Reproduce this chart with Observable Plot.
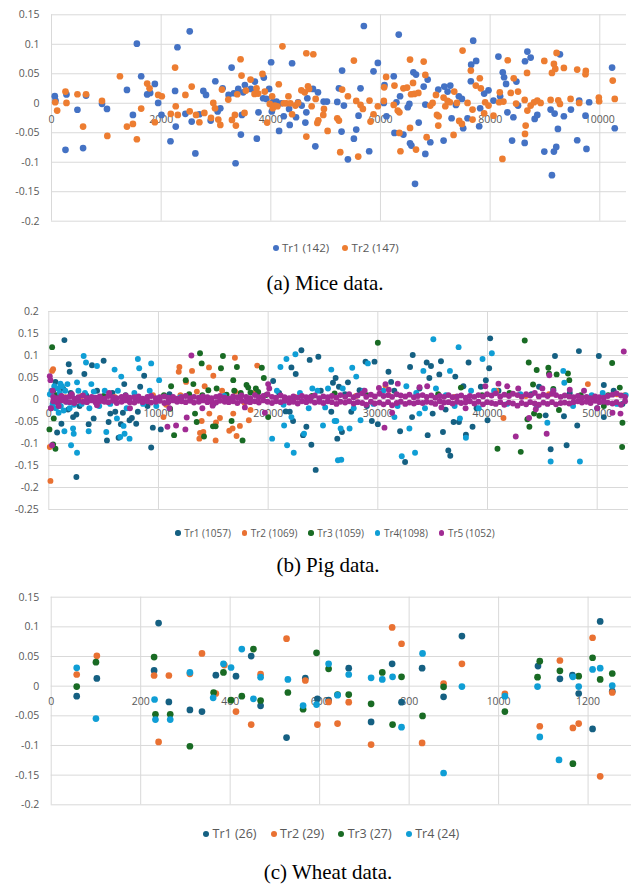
<!DOCTYPE html>
<html><head><meta charset="utf-8">
<script src="https://cdn.jsdelivr.net/npm/d3@7"></script>
<script src="https://cdn.jsdelivr.net/npm/@observablehq/plot@0.6"></script>
<style>
body{margin:0;background:#fff;}
#page{position:relative;width:633px;height:887px;overflow:hidden;background:#fff;}
.blk{position:absolute;left:0;}
.blk svg{overflow:visible;}
.legend{position:absolute;display:flex;align-items:center;white-space:nowrap;font-family:'Open Sans',sans-serif;color:#595959;}
.legend .it{display:flex;align-items:center;}
.legend .sw{border-radius:50%;display:inline-block;flex:none;}
.cap{position:absolute;font-family:'Liberation Serif','Times New Roman',serif;font-size:21px;color:#000;white-space:nowrap;transform:translateX(-50%);line-height:1;}
</style></head><body><div id="page"></div><script>
// ---------- (a) Mice data ----------
const miceNames = ["Tr1 (142)", "Tr2 (147)"];
const miceColors = ["#4472C4", "#ED7D31"];
const miceXTicks = [0, 2000, 4000, 6000, 8000, 10000];
const miceYTicks = [0.15, 0.1, 0.05, 0, -0.05, -0.1, -0.15, -0.2];
const miceTr1 = [[60,0.012],[73,0.0045],[273,0.015],[255,-0.079],[473,-0.011],[576,-0.076],[630,0.013],[921,-0.001],[1012,-0.0096],[1376,0.0226],[1485,-0.0198],[1557,0.101],[1636,0.0458],[1745,0.015],[1800,0.0175],[1885,0.0328],[1945,0.0006],[2006,-0.0198],[2170,-0.0644],[2254,0.0209],[2266,-0.0396],[2297,0.095],[2442,-0.018],[2521,0.122],[2557,-0.031],[2624,-0.085],[2697,-0.0186],[2769,0.0209],[2818,0.0141],[2903,-0.0294],[2988,0.0373],[3030,-0.014],[3079,-0.0085],[3121,0.0254],[3230,0.0141],[3285,0.0605],[3327,0.017],[3357,-0.1017],[3406,0.0243],[3454,-0.0531],[3472,-0.0198],[3497,0.0186],[3527,0.031],[3636,0.0243],[3709,0.0367],[3745,-0.06],[3775,-0.0153],[3872,0.0435],[3860,0.0085],[3921,0.0073],[3969,0.0243],[4006,0.0695],[4018,-0.014],[4042,0.0023],[4103,0.0028],[4151,-0.0469],[4193,0],[4236,-0.022],[4333,-0.0096],[4345,-0.0367],[4388,0.0678],[4460,-0.0237],[4497,0.0017],[4563,-0.004],[4630,-0.0328],[4648,-0.0153],[4666,0.0085],[4769,0.0243],[4812,-0.073],[4860,0.0186],[4963,0.0028],[5024,0.0028],[5212,0.0023],[5242,0.0254],[5300,0.0554],[5290,-0.048],[5333,-0.004],[5406,-0.095],[5515,-0.06],[5558,-0.0446],[5600,-0.021],[5636,0.0254],[5697,0.131],[5794,-0.0814],[5873,0.0542],[5952,0.0684],[6061,0.0006],[6073,0.031],[6109,-0.022],[6242,0.0458],[6255,-0.0503],[6291,0.0017],[6333,0.1164],[6357,0.0119],[6418,-0.0531],[6497,-0.0068],[6527,-0.0011],[6539,-0.0678],[6564,-0.0718],[6600,0.0525],[6648,0.0486],[6630,-0.1367],[6697,-0.0328],[6788,0.0283],[6818,-0.0023],[6818,-0.0859],[6861,0.0401],[6909,-0.0661],[7054,0.0232],[7151,-0.0633],[7164,0.0283],[7224,0.0198],[7273,0.03],[7297,-0.0254],[7376,-0.0028],[7430,0.0119],[7485,0.0073],[7509,-0.0424],[7588,-0.0254],[7648,0.0373],[7654,0.0655],[7691,0.1062],[7745,0.0718],[7800,-0.039],[7818,-0.0085],[7891,0.0164],[7970,0.022],[8061,0.0045],[8151,0.0791],[8182,0.0119],[8230,0.0525],[8254,0.0441],[8291,0.0328],[8315,-0.0153],[8400,-0.0633],[8424,-0.0237],[8479,0.0367],[8509,-0.004],[8630,-0.0672],[8636,0.0712],[8679,0.0876],[8739,0.0774],[8812,-0.0266],[8860,-0.0198],[8988,-0.082],[9103,-0.0107],[9163,-0.082],[9176,-0.0175],[9127,-0.122],[9206,-0.074],[9236,-0.0435],[9273,0.083],[9345,-0.022],[9473,-0.0107],[9588,-0.0627],[9624,0.0045],[9739,-0.021],[9757,-0.0774],[9806,0.0017],[10224,0.0605],[10273,-0.0424]];
const miceTr2 = [[67,0.0017],[103,-0.0124],[255,0.0198],[273,0.0006],[473,0.0153],[576,-0.0396],[630,0.0153],[921,0.004],[1018,-0.0554],[1248,0.0458],[1376,-0.0396],[1485,-0.035],[1557,-0.061],[1636,-0.009],[1745,0.0333],[1788,0.0254],[1885,-0.0322],[1945,0.0141],[2012,0.0119],[2176,-0.018],[2254,0.0605],[2266,-0.0051],[2303,-0.0198],[2442,0.0141],[2521,-0.0136],[2557,0.0283],[2636,-0.0198],[2697,-0.0322],[2788,-0.0164],[2909,-0.0249],[2951,0.0006],[2982,-0.0085],[3042,-0.0277],[3079,-0.0367],[3109,0.0232],[3224,0.0062],[3291,-0.0283],[3345,-0.0198],[3363,-0.0379],[3388,0.0153],[3448,0.0746],[3466,0.0469],[3521,-0.0164],[3545,0.0215],[3630,0.0401],[3703,0.0158],[3739,0.0254],[3769,0.0164],[3848,0.0497],[3890,0.0198],[3933,-0.0328],[3981,-0.0011],[4024,0.0119],[4036,-0.0085],[4073,-0.004],[4121,-0.0051],[4145,0.0322],[4212,0.0966],[4236,0],[4284,0],[4321,0.0119],[4357,0],[4388,-0.0186],[4448,-0.004],[4497,0.0006],[4557,0.022],[4618,0.0186],[4648,-0.0565],[4648,0.0848],[4678,0.0288],[4697,0.0243],[4745,-0.0051],[4775,0.0831],[4818,0.0073],[4848,-0.0333],[4866,-0.0288],[4957,-0.0198],[4969,-0.0096],[5036,-0.0469],[5212,-0.0254],[5242,-0.0294],[5266,-0.083],[5300,0.0232],[5406,0.0119],[5515,0.0723],[5558,0.004],[5594,-0.0904],[5636,-0.0028],[5679,-0.0096],[5800,0.0045],[5818,-0.031],[5873,-0.0186],[5952,-0.0051],[6061,0.004],[6067,0.0271],[6103,0.0446],[6242,-0.0028],[6255,0.03],[6315,-0.0124],[6345,-0.0153],[6345,-0.0503],[6364,-0.0814],[6418,0.0254],[6485,0.0266],[6539,0.074],[6539,-0.0418],[6558,0.0153],[6594,0.0345],[6618,0.0158],[6648,-0.0785],[6691,0.0175],[6788,0.0706],[6818,0.048],[6842,-0.0576],[6909,-0.004],[6951,0.0006],[7012,0.0141],[7030,-0.0198],[7054,-0.0379],[7061,-0.022],[7151,0.0096],[7182,-0.0051],[7224,0.004],[7267,0.0017],[7333,-0.0537],[7345,0.0198],[7394,0.0006],[7436,-0.03],[7485,-0.035],[7497,0.0893],[7588,0.0006],[7648,0.0554],[7679,-0.0107],[7679,-0.0277],[7739,0.03],[7812,0.0424],[7830,0.0254],[7891,-0.017],[7909,0.0017],[7970,-0.004],[8061,-0.021],[8176,0.0186],[8164,0.0017],[8224,-0.0944],[8242,0.0028],[8321,0.0729],[8376,0.0175],[8430,0.0424],[8473,-0.0006],[8509,0.0198],[8630,0.0057],[8648,-0.0379],[8636,-0.052],[8673,0.0514],[8679,-0.0124],[8739,-0.004],[8800,0.0017],[8860,0.0045],[8921,0.0006],[8988,0.0718],[9103,0.0057],[9127,0.0514],[9163,0.0667],[9188,0.0582],[9212,0.0853],[9242,0.0051],[9273,-0.0011],[9345,0.0599],[9467,0.0073],[9588,0.0571],[9624,0.0006],[9745,0.0548],[9739,0.0492],[9982,0.0096],[9988,0.0034],[10236,0.0384],[10273,0.0073]];

// ---------- (b) Pig data ----------
const pigNames = ["Tr1 (1057)", "Tr2 (1069)", "Tr3 (1059)", "Tr4(1098)", "Tr5 (1052)"];
const pigColors = ["#156082", "#E97132", "#196B24", "#0F9ED5", "#A02B93"];
const pigXTicks = [0, 10000, 20000, 30000, 40000, 50000];
const pigYTicks = [0.2, 0.15, 0.1, 0.05, 0, -0.05, -0.1, -0.15, -0.2, -0.25];
const pigTr1 = [[1424,0.135],[1818,0.080],[1909,0.063],[606,0.040],[2515,-0.176],[5000,0.088],[3939,0.078],[3242,0.058],[1757,-0.023],[1151,-0.055],[758,-0.075],[2212,-0.040],[2515,-0.034],[3636,-0.056],[4090,-0.043],[5303,-0.093],[5454,-0.051],[5606,-0.032],[6060,-0.028],[6363,-0.087],[6575,-0.056],[6757,-0.030],[6878,0.035],[7363,-0.047],[7575,-0.042],[7969,-0.055],[8120,-0.028],[8696,0.054],[8333,0.029],[9333,-0.109],[9484,-0.064],[10211,-0.068],[20453,0.042],[21605,-0.027],[21969,-0.028],[22120,0.073],[22514,0.058],[22272,-0.049],[23030,0.112],[23787,0.090],[24575,0.097],[23939,-0.103],[24333,-0.160],[23484,-0.062],[23181,-0.081],[25908,0.038],[26150,0.049],[26454,0.029],[26302,-0.089],[25757,-0.028],[26727,-0.074],[27273,0.039],[27576,-0.028],[28333,0.021],[28879,0.086],[29697,0.086],[29454,-0.049],[30000,-0.056],[30969,0.063],[31212,0.040],[32030,-0.072],[32485,-0.142],[32939,0.074],[33181,0.101],[33121,-0.040],[34545,-0.081],[34454,0.084],[34697,0.049],[34848,0.076],[35000,-0.032],[35606,0.057],[35757,0.087],[35939,-0.074],[36181,-0.023],[36424,-0.116],[36606,-0.128],[37060,0.052],[36908,-0.051],[37393,-0.051],[38030,-0.080],[38272,0.084],[38636,-0.062],[39393,0.029],[39848,0.044],[40000,-0.047],[40242,0.139],[40151,0.071],[44696,0.029],[45302,-0.036],[45757,-0.113],[46151,0.099],[46969,-0.038],[47212,-0.104],[48333,0.110],[48181,-0.059],[50151,0.099],[50605,0.033],[50605,-0.040],[200,-0.02],[400,0.02],[900,-0.01],[1300,0.025],[2000,0.015],[2800,-0.015],[3400,0.01],[4400,0.02],[5800,0.015],[7000,0.01],[9000,-0.015],[11000,0.012],[15000,-0.01],[19000,0.012],[21000,0.015],[24800,0.02],[27000,0.012],[29000,-0.015],[31500,0.02],[33800,0.025],[37800,0.03],[39000,-0.02],[41000,0.02],[44000,0.012],[47500,0.015],[50000,-0.02],[51500,0.02],[52300,-0.01]];
const pigTr2 = [[151,-0.185],[91,-0.108],[394,0.069],[303,0.065],[11908,0.074],[11848,0.063],[12515,0.040],[13060,0.065],[14211,0.030],[14605,0.073],[15000,0.054],[16969,0.095],[13787,-0.076],[14090,-0.074],[13939,-0.049],[13726,-0.089],[14635,-0.032],[15211,-0.093],[15242,-0.052],[15605,-0.042],[16454,-0.071],[16757,-0.066],[16817,-0.032],[17120,-0.083],[17423,-0.060],[17817,-0.007],[18241,-0.047],[18393,-0.024],[19000,0.077],[10454,-0.040],[30697,0.031],[41454,-0.042],[49151,0.035],[1500,0.005],[3000,0.008],[6000,0.006],[9500,0.01],[10700,-0.012],[12000,0.01],[13500,0.018],[15800,0.02],[17000,0.018],[18800,0.015],[22500,0.005],[28000,0.008],[31000,0.01],[37000,0.006],[40800,0.02],[43500,0.008],[45600,0.012],[51800,0.012],[52500,0.01]];
const pigTr3 = [[303,0.119],[60,-0.068],[454,-0.043],[606,-0.112],[394,-0.102],[11151,0.030],[11060,-0.021],[11424,-0.081],[12484,0.044],[13181,0.035],[13787,0.105],[13939,0.082],[14151,-0.084],[13484,-0.051],[13333,-0.032],[14545,0.021],[14969,-0.061],[15211,-0.061],[15302,0.025],[15696,0.071],[15878,0.099],[16211,0.011],[16666,-0.049],[16817,0.044],[16908,0.020],[17151,0.074],[17665,-0.093],[18029,0.033],[18181,0.027],[18393,0.016],[18878,0.025],[19090,0.017],[19423,0.072],[19605,0.049],[20000,-0.040],[26060,0.014],[30000,0.129],[37575,0.027],[40908,-0.112],[43030,-0.119],[43393,0.134],[43757,0.084],[44151,0.034],[44242,-0.032],[44484,0.067],[44726,-0.037],[43636,-0.045],[43818,-0.062],[45545,0.072],[45606,0.059],[46302,0.057],[45999,0.024],[46514,-0.024],[47333,0.059],[47454,0.044],[50605,-0.015],[51363,0.083],[52060,0.027],[52302,-0.053],[52272,-0.108],[700,0.01],[5000,0.008],[8000,0.006],[10500,0.01],[12800,0.012],[14000,0.01],[17500,0.015],[19800,0.01],[24000,0.008],[29000,0.01],[35500,0.012],[39500,0.01],[42000,0.015],[48500,0.01],[51000,0.01]];
const pigTr4 = [[3181,0.099],[3393,0.084],[4393,0.076],[5999,0.068],[6605,0.052],[8120,0.092],[8242,0.071],[9333,0.082],[10060,0.044],[1424,-0.072],[2030,-0.104],[2212,-0.066],[2272,-0.078],[2575,-0.121],[3636,-0.072],[5242,-0.074],[6211,-0.043],[6817,-0.060],[6908,-0.078],[6514,-0.085],[7363,-0.089],[1060,0.036],[2575,0.039],[3878,0.035],[20362,-0.089],[21120,0.074],[21666,0.092],[22484,0.103],[21454,-0.059],[21726,-0.104],[22332,-0.121],[22120,-0.040],[23272,-0.078],[24029,0.025],[25000,-0.059],[25454,0.025],[25757,0.068],[26060,-0.049],[26363,-0.138],[26666,-0.137],[26212,-0.049],[26606,-0.066],[27424,-0.066],[27666,0.072],[28030,0.052],[28424,-0.047],[29091,0.082],[31515,-0.040],[32181,-0.129],[32878,-0.066],[33393,-0.121],[33787,-0.032],[34151,0.065],[35060,0.137],[36575,0.065],[37363,0.119],[37484,-0.043],[38030,-0.087],[39545,0.092],[40393,0.105],[45454,-0.053],[45757,-0.141],[46908,0.065],[47000,0.038],[48424,-0.141],[100,0.012],[250,0.02],[350,-0.01],[500,0.03],[650,-0.02],[800,0.025],[900,-0.03],[1000,0.015],[1100,-0.015],[1200,0.03],[1350,-0.025],[1500,0.02],[1600,-0.005],[1700,0.035],[1900,-0.02],[2100,0.01],[2300,-0.012],[2700,0.02],[3000,-0.01],[3300,0.015],[3700,-0.02],[4100,0.018],[4600,-0.015],[5100,0.02],[5600,-0.01],[6300,0.02],[7100,-0.02],[7800,0.015],[8600,-0.01],[9200,0.02],[9800,-0.015],[12000,0.005],[16000,0.008],[20800,0.02],[21400,-0.012],[22900,0.015],[23700,-0.02],[24500,0.02],[25200,-0.018],[26800,0.025],[27800,-0.02],[28700,0.02],[29600,-0.01],[30500,0.02],[31800,-0.015],[32600,0.03],[33500,0.015],[34300,-0.02],[35300,0.025],[36200,0.01],[37000,-0.015],[38500,0.02],[39200,-0.02],[40600,0.02],[41800,-0.01],[43000,0.012],[44500,-0.015],[46000,0.02],[47800,-0.015],[49500,0.01],[50500,0.015],[51800,-0.01],[52600,0.01]];
const pigTr5 = [[91,0.053],[151,0.044],[303,-0.104],[13000,0.1],[10817,-0.062],[11605,-0.059],[12454,-0.068],[12575,-0.041],[14938,-0.014],[17878,-0.018],[19999,0.035],[30697,0.035],[30606,-0.064],[31818,0.036],[31303,-0.030],[40999,0.036],[42575,-0.084],[43787,-0.042],[45393,-0.078],[45636,0.055],[51393,-0.030],[52121,-0.032],[52424,0.109],[4393,-0.013],[30100,0.026],[31000,0.022],[33800,0.028],[34500,0.03],[39800,0.03],[41800,0.03],[42800,0.025],[44400,-0.022],[46000,0.02],[47500,0.022],[48800,0.02],[50000,-0.02],[20100,0.025],[19700,-0.03],[7400,-0.02],[5500,0.015],[2100,0.012],[900,-0.015],[11000,-0.02],[14000,-0.02],[28800,0.02],[38000,-0.02],[35800,-0.018],[45000,0.025],[200,-0.02],[350,0.02]];
// Tr5 dense band around zero: [x, upper y, lower y]
const pigTr5Band = [[400,0.006,-0.004],[780,0.003,-0.007],[1150,0.008,-0.002],[1560,0.004,-0.005],[1900,0.007,-0.006],[2330,0.002,-0.008],[2700,0.005,-0.003],[3120,0.009,-0.005],[3480,0.003,-0.006],[3900,0.006,-0.002],[4270,0.004,-0.007],[4650,0.007,-0.004],[5080,0.002,-0.005],[5430,0.008,-0.006],[5850,0.005,-0.003],[6200,0.003,-0.008],[6640,0.006,-0.005],[7010,0.009,-0.002],[7390,0.004,-0.006],[7800,0.005,-0.007],[8180,0.007,-0.003],[8560,0.002,-0.006],[8990,0.006,-0.004],[9330,0.008,-0.007],[9760,0.003,-0.005],[10120,0.005,-0.003],[10540,0.007,-0.008],[10900,0.004,-0.006],[11330,0.006,-0.002],[11700,0.002,-0.005],[12100,0.005,-0.004],[12480,0.008,-0.006],[12890,0.003,-0.003],[13240,0.006,-0.007],[13680,0.004,-0.005],[14050,0.007,-0.002],[14460,0.005,-0.006],[14830,0.003,-0.004],[15250,0.006,-0.007],[15600,0.008,-0.003],[16040,0.004,-0.005],[16410,0.002,-0.006],[16800,0.007,-0.004],[17190,0.005,-0.008],[17570,0.009,-0.003],[18000,0.006,-0.005],[18360,0.003,-0.006],[18790,0.010,-0.004],[19150,0.005,-0.007],[19560,0.008,-0.002],[19940,0.012,-0.005],[20350,0.006,-0.008],[20720,0.004,-0.004],[21140,0.009,-0.006],[21500,0.005,-0.003],[21920,0.003,-0.007],[22300,0.007,-0.005],[22690,0.004,-0.009],[23080,0.008,-0.004],[23470,0.005,-0.006],[23880,0.006,-0.003],[24250,0.009,-0.007],[24660,0.003,-0.005],[25030,0.007,-0.008],[25440,0.005,-0.004],[25810,0.008,-0.006],[26230,0.004,-0.010],[26590,0.010,-0.005],[27020,0.006,-0.007],[27380,0.012,-0.004],[27790,0.005,-0.009],[28160,0.009,-0.006],[28580,0.014,-0.008],[28940,0.006,-0.012],[29370,0.011,-0.005],[29730,0.007,-0.009],[30150,0.013,-0.007],[30520,0.008,-0.011],[30930,0.010,-0.006],[31300,0.006,-0.013],[31720,0.012,-0.008],[32090,0.009,-0.005],[32500,0.007,-0.010],[32880,0.011,-0.007],[33290,0.005,-0.009],[33660,0.008,-0.006],[34080,0.010,-0.008],[34450,0.006,-0.005],[34870,0.009,-0.007],[35240,0.004,-0.010],[35650,0.008,-0.004],[36030,0.006,-0.007],[36440,0.010,-0.006],[36810,0.005,-0.009],[37230,0.007,-0.005],[37600,0.009,-0.008],[38010,0.004,-0.006],[38390,0.008,-0.004],[38800,0.006,-0.009],[39170,0.010,-0.005],[39590,0.007,-0.011],[39960,0.012,-0.006],[40370,0.009,-0.008],[40750,0.014,-0.010],[41160,0.007,-0.006],[41530,0.011,-0.012],[41950,0.008,-0.007],[42320,0.013,-0.009],[42730,0.010,-0.014],[43110,0.006,-0.008],[43520,0.012,-0.011],[43890,0.009,-0.006],[44310,0.015,-0.009],[44680,0.007,-0.012],[45090,0.011,-0.007],[45470,0.008,-0.010],[45880,0.013,-0.006],[46250,0.010,-0.011],[46670,0.006,-0.008],[47040,0.009,-0.007],[47450,0.007,-0.009],[47830,0.005,-0.006],[48240,0.008,-0.004],[48610,0.004,-0.007],[49030,0.006,-0.005],[49400,0.003,-0.008],[49810,0.007,-0.003],[50190,0.005,-0.006],[50600,0.004,-0.005],[50970,0.008,-0.007],[51390,0.011,-0.009],[51760,0.014,-0.006],[52170,0.009,-0.012],[52540,0.006,-0.004]];

// ---------- (c) Wheat data ----------
const wheatNames = ["Tr1 (26)", "Tr2 (29)", "Tr3 (27)", "Tr4 (24)"];
const wheatColors = ["#156082", "#E97132", "#196B24", "#0F9ED5"];
const wheatXTicks = [0, 200, 400, 600, 800, 1000, 1200];
const wheatYTicks = [0.15, 0.1, 0.05, 0, -0.05, -0.1, -0.15, -0.2];
const wheatTr1 = [[57,-0.0169],[102,0.013],[240,0.1064],[230,0.0265],[263,-0.0265],[310,-0.040],[337,-0.0428],[368,0.0186],[413,0.0169],[447,0.0507],[468,-0.0332],[526,-0.0867],[568,0.0135],[595,-0.0214],[620,-0.0236],[665,0.0304],[715,-0.0602],[762,0.0377],[783,-0.027],[829,0.0304],[877,-0.018],[918,0.0845],[1088,0.0338],[1137,0.0124],[1165,0.0186],[1179,-0.0124],[1210,-0.072],[1227,0.1092],[1254,-0.0084]];
const wheatTr2 = [[57,0.0197],[102,0.0512],[230,0.018],[240,-0.094],[263,0.018],[310,0.0208],[337,0.0552],[368,-0.0124],[387,0.0355],[413,-0.0428],[447,-0.0647],[468,0.0203],[526,0.080],[568,0.0096],[595,-0.0647],[620,-0.0265],[640,-0.063],[665,-0.027],[715,-0.0985],[762,0.099],[783,0.0715],[829,-0.0957],[877,0.0045],[918,0.0377],[1014,-0.0129],[1092,-0.0676],[1137,0.0433],[1166,-0.0704],[1179,-0.063],[1210,0.0816],[1227,-0.152],[1254,-0.0107]];
const wheatTr3 = [[57,-0.0006],[100,0.0405],[230,0.049],[233,-0.0473],[266,-0.0473],[310,-0.1013],[363,-0.0107],[385,0.0231],[402,-0.0236],[426,-0.0169],[452,0.0625],[468,-0.0242],[529,-0.0107],[563,-0.0388],[593,0.0563],[620,0.0293],[640,-0.0141],[665,-0.0141],[715,-0.0298],[740,0.0231],[763,-0.0647],[783,0.0158],[830,-0.0501],[877,-0.0011],[1014,-0.0428],[1087,0.0152],[1092,0.0422],[1137,0.0259],[1166,-0.1306],[1179,0.0169],[1210,0.0479],[1227,0.0113],[1254,0.0214]];
const wheatTr4 = [[57,0.031],[100,-0.0546],[231,-0.0225],[233,-0.0563],[266,-0.0563],[310,0.0231],[362,-0.0197],[385,0.0377],[402,0.0315],[426,0.0625],[452,-0.0214],[468,0.0152],[529,0.0113],[563,-0.0327],[593,-0.031],[620,0.0377],[640,-0.0152],[665,0.0197],[715,0.0141],[740,0.0113],[763,0.0158],[783,-0.0692],[830,0.0552],[877,-0.1464],[918,-0.0006],[1014,-0.0169],[1087,-0.0006],[1092,-0.0856],[1135,-0.1244],[1166,0.0158],[1179,-0.0006],[1210,0.0282],[1227,0.0304],[1254,0.0011]];

// ---------- drawing ----------
const page = document.getElementById("page");

function drawChart(o) {
  const marks = [
    Plot.ruleY(o.yTicks, {stroke: "#d9d9d9", strokeWidth: 1}),
    Plot.ruleX(o.xTicks, {stroke: "#d9d9d9", strokeWidth: 1}),
    Plot.text(o.xTicks, {x: d => d, y: 0, dy: o.labelDy, text: d => String(d), fill: "#595959", fontSize: o.fontSize}),
    ...o.series.map((s, i) => Plot.dot(s, {x: d => d[0], y: d => d[1], r: o.r, fill: o.colors[i]}))
  ];
  const svg = Plot.plot({
    width: 633,
    height: o.height,
    marginTop: o.marginTop, marginBottom: o.marginBottom,
    marginLeft: o.marginLeft, marginRight: o.marginRight,
    style: {fontFamily: "'Open Sans', sans-serif", fontSize: o.fontSize + "px", color: "#595959", background: "white", overflow: "visible"},
    x: {domain: o.xDomain, axis: null},
    y: {domain: o.yDomain, ticks: o.yTicks, tickSize: 0, tickPadding: o.tickPadding, tickFormat: d => String(d), label: null},
    marks
  });
  const div = document.createElement("div");
  div.className = "blk";
  div.style.top = o.top + "px";
  div.appendChild(svg);
  page.appendChild(div);
}

function drawLegend(names, colors, o) {
  const lg = document.createElement("div");
  lg.className = "legend";
  lg.style.left = o.left + "px";
  lg.style.top = (o.cy - o.lh / 2) + "px";
  lg.style.height = o.lh + "px";
  lg.style.fontSize = o.fs + "px";
  lg.style.lineHeight = o.lh + "px";
  names.forEach((n, i) => {
    const it = document.createElement("div");
    it.className = "it";
    if (i < names.length - 1) it.style.marginRight = o.gap + "px";
    const sw = document.createElement("span");
    sw.className = "sw";
    sw.style.width = sw.style.height = o.sw + "px";
    sw.style.background = colors[i];
    sw.style.marginRight = o.pad + "px";
    const tx = document.createElement("span");
    tx.textContent = n;
    it.appendChild(sw); it.appendChild(tx);
    lg.appendChild(it);
  });
  page.appendChild(lg);
}

function drawCaption(text, cx, top) {
  const c = document.createElement("div");
  c.className = "cap";
  c.style.left = cx + "px";
  c.style.top = top + "px";
  c.textContent = text;
  page.appendChild(c);
}

// (a)
drawChart({top: 0, height: 229, marginTop: 14.3, marginBottom: 8.3, marginLeft: 51, marginRight: 7,
  xDomain: [0, 10487], yDomain: [-0.2, 0.15], xTicks: miceXTicks, yTicks: miceYTicks,
  series: [miceTr1, miceTr2], colors: miceColors, r: 3.35, labelDy: 16.5, fontSize: 10.5, tickPadding: 12});
drawLegend(miceNames, miceColors, {left: 272.5, cy: 248, lh: 16, fs: 11.5, sw: 6, pad: 3.5, gap: 13});
drawCaption("(a) Mice data.", 325, 273.4);

// (b)
const pigTr5All = pigTr5Band.flatMap(([x, a, b]) => [[x, a], [x, b]]).concat(pigTr5);
drawChart({top: 300, height: 217, marginTop: 11, marginBottom: 8, marginLeft: 48.3, marginRight: 5,
  xDomain: [0, 52854], yDomain: [-0.25, 0.2], xTicks: pigXTicks, yTicks: pigYTicks,
  series: [pigTr1, pigTr2, pigTr3, pigTr4, pigTr5All], colors: pigColors, r: 2.95, labelDy: 14.5, fontSize: 10.5, tickPadding: 10});
drawLegend(pigNames, pigColors, {left: 175.3, cy: 533, lh: 16, fs: 10, sw: 5.4, pad: 3.5, gap: 11});
drawCaption("(b) Pig data.", 328, 555.4);

// (c)
drawChart({top: 585, height: 227.3, marginTop: 11.7, marginBottom: 8, marginLeft: 50.7, marginRight: 2,
  xDomain: [0, 1297], yDomain: [-0.2, 0.15], xTicks: wheatXTicks, yTicks: wheatYTicks,
  series: [wheatTr1, wheatTr2, wheatTr3, wheatTr4], colors: wheatColors, r: 3.35, labelDy: 15.7, fontSize: 10.5, tickPadding: 12});
drawLegend(wheatNames, wheatColors, {left: 203, cy: 834, lh: 16, fs: 12.5, sw: 6, pad: 3.5, gap: 14});
drawCaption("(c) Wheat data.", 328, 862.4);
</script></body></html>
